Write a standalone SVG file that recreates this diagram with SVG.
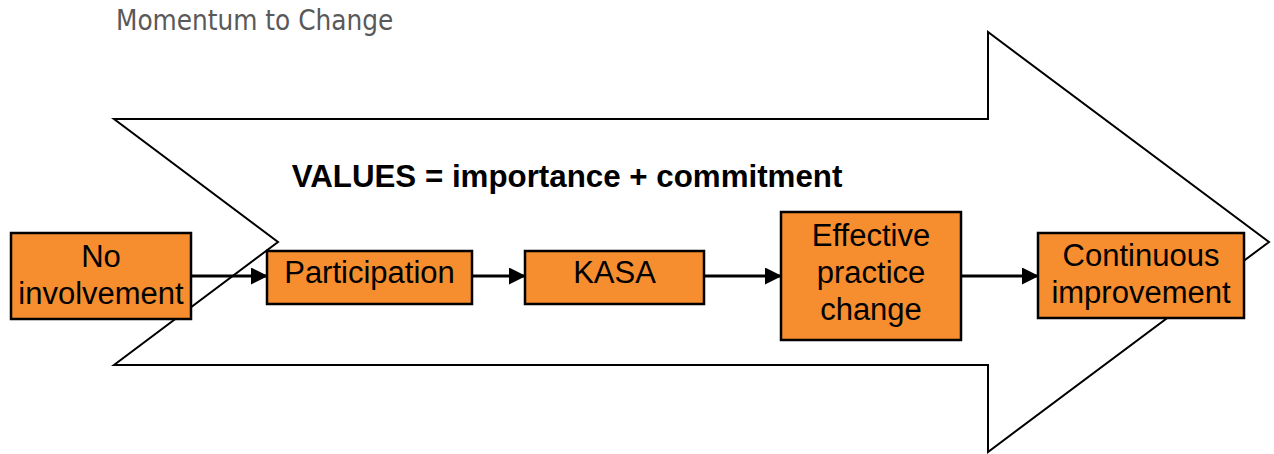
<svg xmlns="http://www.w3.org/2000/svg" width="1274" height="454" viewBox="0 0 1274 454">
<style>
.box{fill:#F68D2E;stroke:#000;stroke-width:2.5}
.lbl{font-family:"Liberation Sans",Arial,sans-serif;font-size:31px;fill:#000;text-anchor:middle}
.conn{stroke:#000;stroke-width:3;fill:none;marker-end:url(#ah)}
</style>
<defs>
<marker id="ah" markerUnits="userSpaceOnUse" markerWidth="17" markerHeight="17" refX="16" refY="8.5" orient="auto">
<path d="M0,0 L17,8.5 L0,17 Z" fill="#000"/>
</marker>
</defs>
<rect width="1274" height="454" fill="#fff"/>
<text x="116" y="30" font-family="DejaVu Sans Condensed,DejaVu Sans,sans-serif" font-size="27.6" fill="#595959">Momentum to Change</text>
<g id="bigArrow">
<polygon points="114,119 988,119 988,32 1269,242 988,452 988,365 114,365 278,242" fill="#fff" stroke="#000" stroke-width="2"/>
</g>
<text x="567" y="187" font-family="Liberation Sans,Arial,sans-serif" font-size="31.3" font-weight="bold" text-anchor="middle">VALUES = importance + commitment</text>
<g id="connectors">
<line class="conn" x1="191" y1="276" x2="267" y2="276"/>
<line class="conn" x1="472" y1="276" x2="525" y2="276"/>
<line class="conn" x1="704" y1="276" x2="781" y2="276"/>
<line class="conn" x1="961" y1="276" x2="1038" y2="276"/>
</g>
<g id="noInvolvement">
<rect class="box" x="11" y="233" width="180" height="86"/>
<text class="lbl" x="101" y="267">No</text>
<text class="lbl" x="101" y="304">involvement</text>
</g>
<g id="participation">
<rect class="box" x="267" y="251" width="205" height="53"/>
<text class="lbl" x="369.5" y="283">Participation</text>
</g>
<g id="kasa">
<rect class="box" x="525" y="251" width="179" height="53"/>
<text class="lbl" x="614.5" y="283">KASA</text>
</g>
<g id="effectivePracticeChange">
<rect class="box" x="781" y="212" width="180" height="128"/>
<text class="lbl" x="871" y="246">Effective</text>
<text class="lbl" x="871" y="283">practice</text>
<text class="lbl" x="871" y="320">change</text>
</g>
<g id="continuousImprovement">
<rect class="box" x="1038" y="233" width="206" height="85"/>
<text class="lbl" x="1141" y="266">Continuous</text>
<text class="lbl" x="1141" y="303">improvement</text>
</g>
</svg>
